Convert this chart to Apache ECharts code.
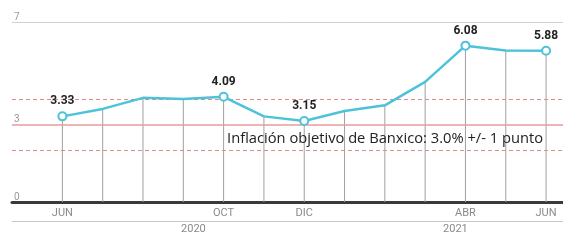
<!DOCTYPE html>
<html>
<head>
<meta charset="utf-8">
<script src="https://cdn.jsdelivr.net/npm/echarts@6/dist/echarts.min.js"></script>
<style>
  html, body { margin: 0; padding: 0; background: #fff; }
  #chart { width: 563px; height: 244px; }
</style>
</head>
<body>
<div id="chart"></div>
<script>
// monthly inflation, Jun 2020 .. Jun 2021
const months = ["JUN", "JUL", "AGO", "SEP", "OCT", "NOV", "DIC", "ENE", "FEB", "MAR", "ABR", "MAY", "JUN"];
const inflation = [3.33, 3.62, 4.05, 4.01, 4.09, 3.33, 3.15, 3.54, 3.76, 4.67, 6.08, 5.89, 5.88];
const highlighted = [0, 4, 6, 10, 12];
const years = ["2020", "2021"];
const yearAt = [3.25, 9.75];
const yLabels = [0, 3, 7];
const target = 3;
const targetBand = [2, 4];
const topLine = 7;
const targetText = "Inflación objetivo de Banxico: 3.0% +/- 1 punto";

const chart = echarts.init(document.getElementById("chart"), null, { renderer: "canvas" });

const FONT = "Roboto, 'Liberation Sans', sans-serif";
const X_MIN = -1.25, X_MAX = 12.42;

const lineData = inflation.map((v, i) => {
  const on = highlighted.includes(i);
  return {
    value: [i, v],
    symbol: on ? "circle" : "none",
    label: { show: on }
  };
});
const dropData = inflation.map((v, i) => [i, v]);

chart.setOption({
  animation: false,
  backgroundColor: "#fff",
  grid: { left: 12, right: 0, top: 22, bottom: 42 },
  xAxis: [
    {
      type: "value",
      min: X_MIN,
      max: X_MAX,
      interval: 0.25,
      axisLine: { show: true, lineStyle: { color: "#3a3a3a", width: 3 } },
      axisTick: { show: false },
      splitLine: { show: false },
      axisLabel: {
        margin: 6,
        color: "#8a8a8a",
        fontFamily: FONT,
        fontSize: 11,
        showMaxLabel: false,
        formatter: (v) => {
          const i = Math.round(v);
          return Math.abs(v - i) < 1e-6 && highlighted.includes(i) ? months[i] : "";
        }
      }
    },
    {
      type: "value",
      position: "bottom",
      offset: 19,
      min: X_MIN,
      max: X_MAX,
      interval: 0.25,
      axisLine: { show: true, lineStyle: { color: "#c8c8c8", width: 1 } },
      axisTick: { show: false },
      splitLine: { show: false },
      axisLabel: {
        margin: 3,
        color: "#8a8a8a",
        fontFamily: FONT,
        fontSize: 11,
        showMaxLabel: false,
        formatter: (v) => {
          const k = yearAt.findIndex((p) => Math.abs(p - v) < 1e-6);
          return k >= 0 ? years[k] : "";
        }
      }
    }
  ],
  yAxis: {
    type: "value",
    min: 0,
    max: 7,
    interval: 1,
    axisLine: { show: false },
    axisTick: { show: false },
    splitLine: { show: false },
    axisLabel: {
      inside: true,
      margin: 2,
      verticalAlign: "bottom",
      color: "#9a9a9a",
      fontFamily: FONT,
      fontSize: 10,
      formatter: (v) => (yLabels.includes(v) ? String(v) : "")
    }
  },
  series: [
    {
      name: "drop",
      type: "bar",
      xAxisIndex: 0,
      barWidth: 1,
      silent: true,
      itemStyle: { color: "#a0a0a0" },
      data: dropData,
      z: 2
    },
    {
      name: "Inflación",
      type: "line",
      xAxisIndex: 0,
      data: lineData,
      symbolSize: 8,
      lineStyle: { color: "#4cc3d9", width: 2.5 },
      itemStyle: { color: "#fff", borderColor: "#4cc3d9", borderWidth: 2 },
      label: {
        position: "top",
        distance: 4,
        color: "#222",
        fontWeight: "bold",
        fontFamily: FONT,
        fontSize: 12,
        formatter: (p) => p.value[1].toFixed(2)
      },
      z: 5,
      markLine: {
        silent: true,
        symbol: "none",
        label: { show: false },
        data: [
          { yAxis: topLine, lineStyle: { color: "#d0d0d0", width: 1, type: "solid" } },
          {
            yAxis: target,
            lineStyle: { color: "#e89a9a", width: 1.5, type: "solid" },
            label: {
              show: true,
              position: "insideEndBottom",
              distance: [20, 6],
              formatter: targetText,
              color: "#222",
              fontFamily: "'Open Sans', sans-serif",
              fontSize: 14.7
            }
          },
          { yAxis: targetBand[1], lineStyle: { color: "#e08a8a", width: 1, type: [4, 3] } },
          { yAxis: targetBand[0], lineStyle: { color: "#e08a8a", width: 1, type: [4, 3] } }
        ]
      }
    }
  ]
});

window.addEventListener("resize", () => chart.resize());
</script>
</body>
</html>
